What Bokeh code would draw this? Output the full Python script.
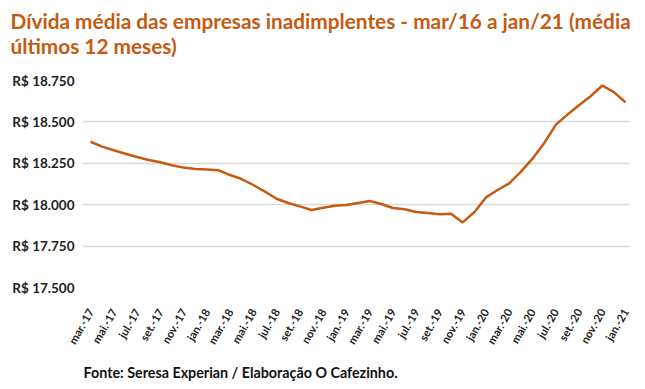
import math
from bokeh.plotting import figure
from bokeh.models import FixedTicker, Range1d, Title, ColumnDataSource
from bokeh.embed import file_html
from bokeh.resources import INLINE

meses = ["mar.-17", "abr.-17", "mai.-17", "jun.-17", "jul.-17", "ago.-17", "set.-17", "out.-17",
         "nov.-17", "dez.-17", "jan.-18", "fev.-18", "mar.-18", "abr.-18", "mai.-18", "jun.-18",
         "jul.-18", "ago.-18", "set.-18", "out.-18", "nov.-18", "dez.-18", "jan.-19", "fev.-19",
         "mar.-19", "abr.-19", "mai.-19", "jun.-19", "jul.-19", "ago.-19", "set.-19", "out.-19",
         "nov.-19", "dez.-19", "jan.-20", "fev.-20", "mar.-20", "abr.-20", "mai.-20", "jun.-20",
         "jul.-20", "ago.-20", "set.-20", "out.-20", "nov.-20", "dez.-20", "jan.-21"]

divida = [18380, 18351, 18329, 18308, 18288, 18270, 18256, 18238, 18224, 18216,
          18212, 18208, 18179, 18155, 18119, 18079, 18036, 18010, 17990, 17968,
          17982, 17994, 17998, 18010, 18022, 18004, 17980, 17972, 17956, 17950,
          17942, 17945, 17893, 17954, 18044, 18089, 18129, 18198, 18278, 18371,
          18482, 18544, 18601, 18655, 18720, 18680, 18619]

y_ticks = [17500, 17750, 18000, 18250, 18500, 18750]
y_labels = ["R$ 17.500", "R$ 17.750", "R$ 18.000", "R$ 18.250", "R$ 18.500", "R$ 18.750"]

titulo = "Dívida média das empresas inadimplentes - mar/16 a jan/21 (média\núltimos 12 meses)"
fonte = "Fonte: Seresa Experian / Elaboração O Cafezinho."

ORANGE = "#C55A11"
FONT = "Lato"

idx = list(range(len(meses)))
src = ColumnDataSource(dict(x=idx, y=divida))

p = figure(width=637, height=389, output_backend="svg", toolbar_location=None,
           x_range=Range1d(-0.69, 46.43), y_range=Range1d(17500, 18750),
           min_border_left=82, min_border_right=7, min_border_top=79, min_border_bottom=100)
p.outline_line_color = None
p.background_fill_color = "white"
p.border_fill_color = "white"

p.title.text = titulo
p.title.text_font = FONT
p.title.text_font_size = "20.8px"
p.title.text_font_style = "bold"
p.title.text_color = ORANGE
p.title.align = "left"
p.title.offset = -72

# small blank title used as a spacer between the heading and the plot area
spacer = Title(text=" ", text_font_size="5px")
p.add_layout(spacer, "above")

p.line("x", "y", source=src, line_color=ORANGE, line_width=2.5)

# axes
p.yaxis.ticker = FixedTicker(ticks=y_ticks)
p.yaxis.major_label_overrides = {t: l for t, l in zip(y_ticks, y_labels)}
p.yaxis.axis_line_color = None
p.yaxis.major_tick_line_color = None
p.yaxis.minor_tick_line_color = None
p.yaxis.major_tick_out = 0
p.yaxis.major_tick_in = 0
p.yaxis.minor_tick_out = 0
p.yaxis.major_label_text_font = FONT
p.yaxis.major_label_text_font_size = "13.5px"
p.yaxis.major_label_text_font_style = "bold"
p.yaxis.major_label_text_color = "#222222"
p.yaxis.major_label_standoff = 8

xt = idx[::2]
p.xaxis.ticker = FixedTicker(ticks=xt)
p.xaxis.major_label_overrides = {i: meses[i] for i in xt}
p.xaxis.major_label_orientation = math.pi / 3
p.xaxis.axis_line_color = None
p.xaxis.major_tick_line_color = None
p.xaxis.minor_tick_line_color = None
p.xaxis.major_tick_out = 0
p.xaxis.major_tick_in = 0
p.xaxis.minor_tick_out = 0
p.xaxis.major_label_text_font = FONT
p.xaxis.major_label_text_font_size = "11.2px"
p.xaxis.major_label_text_font_style = "bold"
p.xaxis.major_label_text_color = "#222222"
p.xaxis.major_label_standoff = 22

p.xgrid.grid_line_color = None
p.ygrid.ticker = FixedTicker(ticks=y_ticks)
p.ygrid.grid_line_color = "#D9D9D9"
p.ygrid.grid_line_width = 1.5

foot = Title(text=fonte, align="left", text_font=FONT, text_font_size="14.3px",
             text_font_style="bold", text_color="#111111", offset=1, standoff=18)
p.add_layout(foot, "below")

open("out.html", "w").write(file_html(p, INLINE))
